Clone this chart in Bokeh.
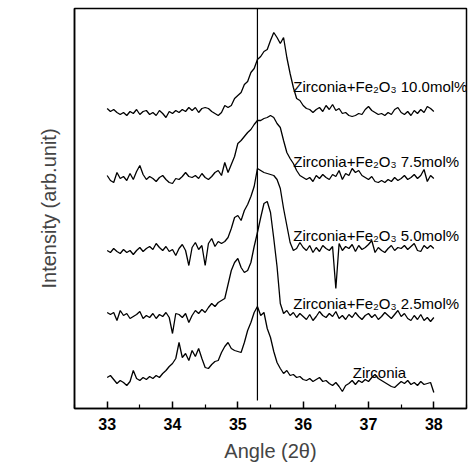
import numpy as np
from bokeh.plotting import figure
from bokeh.models import Range1d, FixedTicker
from bokeh.core.properties import value
from bokeh.embed import file_html
from bokeh.resources import INLINE

# ---- data (intensity in arbitrary units) ----
angle_start = 33.0
angle_step = 0.05
n_points = 101
angles = np.round(angle_start + angle_step * np.arange(n_points), 2)

zirconia = [31, 33, 29, 25, 28, 26, 23, 27, 38, 30,
            28, 31, 29, 32, 30, 33, 31, 35, 38, 42,
            45, 50, 66, 51, 55, 48, 58, 52, 60, 50,
            41, 40, 44, 47, 48, 56, 62, 66, 60, 58,
            57, 56, 66, 78, 86, 96, 102, 93, 96, 80,
            71, 57, 46, 40, 35, 38, 33, 34, 31, 32,
            29, 28, 30, 27, 29, 31, 27, 28, 25, 23,
            26, 22, 17, 23, 25, 28, 24, 28, 26, 29,
            27, 31, 34, 30, 28, 26, 24, 22, 21, 24,
            27, 25, 28, 24, 26, 23, 27, 24, 25, 26,
            16]

fe_2_5 = [96, 94, 96, 88, 98, 93, 95, 90, 92, 94,
          97, 90, 93, 91, 95, 90, 94, 92, 96, 91,
          75, 95, 94, 91, 95, 86, 93, 98, 95, 99,
          96, 101, 105, 102, 106, 108, 110, 124, 138, 146,
          150, 141, 136, 138, 146, 162, 176, 191, 205, 207,
          196, 170, 142, 105, 95, 98, 93, 96, 91, 95,
          92, 89, 94, 88, 92, 97, 93, 91, 95, 92,
          97, 90, 93, 89, 94, 91, 96, 92, 89, 93,
          95, 91, 94, 89, 92, 96, 93, 90, 94, 98,
          92, 95, 90, 88, 93, 89, 94, 88, 91, 87,
          91]

fe_5_0 = [158, 156, 160, 157, 155, 159, 156, 158, 154, 158,
          161, 157, 160, 162, 159, 165, 161, 158, 162, 157,
          159, 153, 160, 164, 158, 143, 161, 166, 159, 163,
          143, 165, 170, 162, 167, 165, 167, 171, 180, 191,
          193, 188, 198, 204, 212, 222, 240,
          238, 236, 235, 234, 233, 229, 220, 200, 183, 166, 158, 160,
          166, 161, 158, 163, 156, 161, 157, 163, 160, 158,
          162, 120, 165, 158, 162, 160, 164, 157, 163, 159,
          161, 164, 168, 156, 161, 158, 156, 160, 163, 158,
          161, 160, 163, 159, 162, 165, 158, 157, 163, 160,
          163, 160]

fe_7_5 = [233, 228, 226, 236, 230, 232, 228, 235, 229, 237,
          243, 234, 229, 232, 230, 227, 231, 233, 229, 226,
          225, 230, 229, 232, 236, 232, 231, 233, 230, 235,
          231, 229, 232, 236, 238, 233, 246, 236, 244, 252,
          265, 268, 272, 276, 279, 284, 288,
          288, 290, 291, 293, 291, 285, 281, 268, 256, 250, 245, 238, 233, 231,
          229, 231, 227, 233, 230, 234, 231, 229, 234, 232,
          238, 229, 235, 233, 240, 236, 238, 233, 231, 229,
          232, 227, 226, 228, 226, 229, 227, 231, 228, 230,
          233, 229, 231, 234, 230, 233, 239, 227, 233, 230]

fe_10_0 = [300, 297, 299, 296, 294, 296, 293, 297, 295, 299,
           294, 297, 298, 294, 296, 293, 298, 295, 291, 297,
           295, 298, 296, 299, 297, 301, 298, 301, 296, 300,
           301, 300, 297, 295, 293, 296, 303, 301, 303, 310,
           313, 316, 324, 327, 336, 340, 349, 352, 357, 359,
           368, 376, 371, 365, 371, 351, 335, 321, 310, 308,
           303, 300, 299,
           296, 299, 301, 297, 303, 299, 304, 298, 300, 295,
           296, 293, 292, 293, 295, 294, 299, 302, 298, 296,
           294, 295, 293, 296, 294, 299, 301, 296, 294, 297,
           293, 298, 295, 299, 296, 302, 300, 297]

series = [zirconia, fe_2_5, fe_5_0, fe_7_5, fe_10_0]
for s in series:
    assert len(s) == n_points, len(s)

labels = ["Zirconia",
          "Zirconia+Fe\u2082O\u2083 2.5mol%",
          "Zirconia+Fe\u2082O\u2083 5.0mol%",
          "Zirconia+Fe\u2082O\u2083 7.5mol%",
          "Zirconia+Fe\u2082O\u2083 10.0mol%"]
label_x = [36.76, 35.85, 35.85, 35.85, 35.85]
label_y = [36, 105, 173, 247, 322]

ref_angle = 35.3
ref_bottom = 8
ref_top = 400

x_ticks = [33, 34, 35, 36, 37, 38]
x_minor = [32.5, 33.5, 34.5, 35.5, 36.5, 37.5, 38.5]

# ---- figure ----
p = figure(width=473, height=470,
           x_range=Range1d(32.5, 38.5), y_range=Range1d(0, 400),
           output_backend="svg", toolbar_location=None,
           min_border_left=74, min_border_right=7,
           min_border_top=8, min_border_bottom=62)
p.grid.visible = False
p.background_fill_color = "white"
p.border_fill_color = "white"
p.outline_line_color = "black"
p.outline_line_width = 1.5

for s in series:
    p.line(angles, s, line_color="black", line_width=1.3)

p.segment(x0=[ref_angle], y0=[ref_bottom], x1=[ref_angle], y1=[ref_top],
          line_color="black", line_width=1.2)

p.text(x=label_x, y=label_y, text=labels,
       text_font=value("Liberation Sans"), text_font_size="15px",
       text_color="black", text_baseline="alphabetic", text_align="left")

xa = p.xaxis[0]
xa.ticker = FixedTicker(ticks=x_ticks, minor_ticks=x_minor)
xa.major_tick_in = 7
xa.major_tick_out = 0
xa.minor_tick_in = 4
xa.minor_tick_out = 0
xa.major_tick_line_width = 1.5
xa.minor_tick_line_width = 1.2
xa.axis_line_width = 1.5
xa.major_label_text_font = "Liberation Sans"
xa.major_label_text_font_size = "16px"
xa.major_label_text_font_style = "bold"
xa.major_label_text_color = "black"
xa.major_label_standoff = 9
xa.axis_label = "Angle (2\u03b8)"
xa.axis_label_text_font = "Liberation Sans"
xa.axis_label_text_font_size = "20px"
xa.axis_label_text_font_style = "normal"
xa.axis_label_standoff = 7

ya = p.yaxis[0]
ya.ticker = FixedTicker(ticks=[])
ya.major_tick_line_color = None
ya.minor_tick_line_color = None
ya.axis_line_width = 1.5
ya.axis_label = "Intensity (arb.unit)"
ya.axis_label_text_font = "Liberation Sans"
ya.axis_label_text_font_size = "20px"
ya.axis_label_text_font_style = "normal"
ya.axis_label_standoff = 15

open("out.html", "w").write(file_html(p, INLINE))
